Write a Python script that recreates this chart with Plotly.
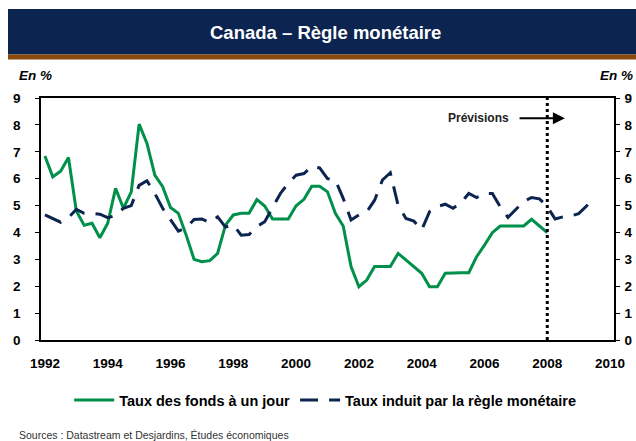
import plotly.graph_objects as go

# ---- data (quarterly, from 1992 Q1) ----
overnight_rate = [6.84, 6.07, 6.28, 6.79, 4.80, 4.27, 4.34, 3.80, 4.34, 5.64,
                  4.90, 5.51, 8.03, 7.31, 6.13, 5.70, 4.93, 4.71, 3.90, 3.00,
                  2.91, 2.95, 3.22, 4.27, 4.65, 4.71, 4.71, 5.22, 4.98, 4.50,
                  4.50, 4.50, 4.99, 5.23, 5.72, 5.72, 5.51, 4.71, 4.24, 2.73,
                  1.98, 2.23, 2.73, 2.73, 2.73, 3.22, 2.97, 2.73, 2.48, 1.98,
                  1.98, 2.48, 2.50, 2.50, 2.50, 3.10, 3.53, 3.99, 4.24, 4.24,
                  4.24, 4.24, 4.49, 4.24, 3.99]
rule_rate = [4.65, 4.50, 4.38, 4.55, 4.86, 4.71, 4.71, 4.68, 4.55, 4.63,
             4.90, 5.00, 5.75, 5.92, 5.45, 4.90, 4.45, 4.05, 4.17, 4.48,
             4.50, 4.37, 4.58, 4.20, 4.28, 3.90, 3.92, 4.22, 4.40, 4.90,
             5.45, 5.83, 6.13, 6.19, 6.45, 6.40, 6.00, 5.95, 5.27, 4.46,
             4.65, 4.77, 5.20, 5.95, 6.22, 5.00, 4.52, 4.42, 4.09, 4.77,
             4.96, 5.05, 4.90, 5.10, 5.45, 5.30, 5.45, 5.45, 4.96, 4.56,
             4.85, 5.15, 5.30, 5.25, 4.96, 4.50, 4.58, 4.61, 4.70, 4.98,
             5.35]
start_year = 1992
quarters_green = [start_year + q / 4 for q in range(len(overnight_rate))]
quarters_blue = [start_year + q / 4 for q in range(len(rule_rate))]
year_ticks = list(range(1992, 2011, 2))
y_ticks = list(range(0, 10))
forecast_start = 2008

GREEN = "#00904A"
NAVY = "#0B2450"
BROWN = "#8A4A0C"
FONT = "Liberation Sans, Arial, sans-serif"

fig = go.Figure()
fig.add_trace(go.Scatter(x=quarters_green, y=overnight_rate, mode="lines",
                         name="<b>Taux des fonds à un jour</b>",
                         line=dict(color=GREEN, width=3)))
fig.add_trace(go.Scatter(x=quarters_blue, y=rule_rate, mode="lines",
                         name="<b>Taux induit par la règle monétaire</b>",
                         yaxis="y2",
                         line=dict(color=NAVY, width=3, dash="18px,11px")))

# Forecast line
fig.add_shape(type="line", xref="x", yref="paper", x0=forecast_start, x1=forecast_start,
              y0=0, y1=1, line=dict(color="black", width=3, dash="dot"), layer="above")

# Title bar
fig.add_shape(type="rect", xref="paper", yref="paper",
              x0=(8 - 41) / 573, x1=(636 - 41) / 573,
              y0=(340 - 54.5) / 242, y1=(340 - 9) / 242,
              fillcolor=NAVY, line=dict(width=0), layer="below")
fig.add_shape(type="rect", xref="paper", yref="paper",
              x0=(8 - 41) / 573, x1=(636 - 41) / 573,
              y0=(340 - 59.5) / 242, y1=(340 - 54.5) / 242,
              fillcolor=BROWN, line=dict(width=0), layer="below")

annotations = [
    dict(text="<b>Canada – Règle monétaire</b>", xref="paper", yref="paper",
         x=(325 - 41) / 573, y=(340 - 32) / 242, xanchor="center", yanchor="middle",
         showarrow=False, font=dict(family=FONT, size=18.5, color="white")),
    dict(text="<b><i>En %</i></b>", xref="paper", yref="paper",
         x=(17 - 41) / 573, y=(340 - 75) / 242, xanchor="left", yanchor="middle",
         showarrow=False, font=dict(family=FONT, size=13.5, color="black")),
    dict(text="<b><i>En %</i></b>", xref="paper", yref="paper",
         x=(635 - 41) / 573, y=(340 - 75) / 242, xanchor="right", yanchor="middle",
         showarrow=False, font=dict(family=FONT, size=13.5, color="black")),
    dict(text="<b>Prévisions</b>", xref="x", yref="y",
         x=2006.83, y=8.25, xanchor="right", yanchor="middle",
         showarrow=False, font=dict(family=FONT, size=12, color="#222222")),
    dict(text="", xref="x", yref="y", x=2008.56, y=8.25,
         ax=2007.07, ay=8.25, axref="x", ayref="y",
         showarrow=True, arrowhead=2, arrowsize=1.2, arrowwidth=2, arrowcolor="black"),
    dict(text="Sources : Datastream et Desjardins, Études économiques", xref="paper", yref="paper",
         x=(17 - 41) / 573, y=(340 - 435) / 242, xanchor="left", yanchor="middle",
         showarrow=False, font=dict(family=FONT, size=10.5, color="#333333")),
]

axis_font = dict(family=FONT, size=13.5, color="black")
fig.update_layout(
    width=636, height=441,
    margin=dict(l=41, r=22, t=98, b=101, pad=0, autoexpand=False),
    paper_bgcolor="white", plot_bgcolor="white",
    showlegend=True,
    legend=dict(orientation="h", x=0.496, xanchor="center", y=-0.248, yanchor="middle",
                font=dict(family=FONT, size=14.5, color="black"), bgcolor="rgba(0,0,0,0)",
                itemwidth=40, tracegroupgap=0),
    xaxis=dict(range=[1991.875, 2010.125], tickmode="array", tickvals=year_ticks,
               ticktext=[f"<b>{y}</b>" for y in year_ticks],
               showgrid=False, zeroline=False, showline=True, linecolor="black",
               linewidth=1.5, mirror=True, ticks="", tickfont=axis_font,
               ticklabelstandoff=10),
    yaxis=dict(range=[0, 9], tickmode="array", tickvals=y_ticks,
               ticktext=[f"<b>{v}</b>" for v in y_ticks],
               showgrid=False, zeroline=False, showline=True, linecolor="black",
               linewidth=1.5, ticks="outside", ticklen=4, tickcolor="black",
               tickfont=axis_font, ticklabelstandoff=12),
    yaxis2=dict(range=[0, 9], tickmode="array", tickvals=y_ticks,
                ticktext=[f"<b>{v}</b>" for v in y_ticks],
                overlaying="y", side="right",
                showgrid=False, zeroline=False, showline=True, linecolor="black",
                linewidth=1.5, ticks="outside", ticklen=4, tickcolor="black",
                tickfont=axis_font, ticklabelstandoff=2),
    annotations=annotations,
)

fig.write_html("out.html", config={"displayModeBar": False},
               post_script="document.body.style.margin='0';document.body.style.overflow='hidden';")
